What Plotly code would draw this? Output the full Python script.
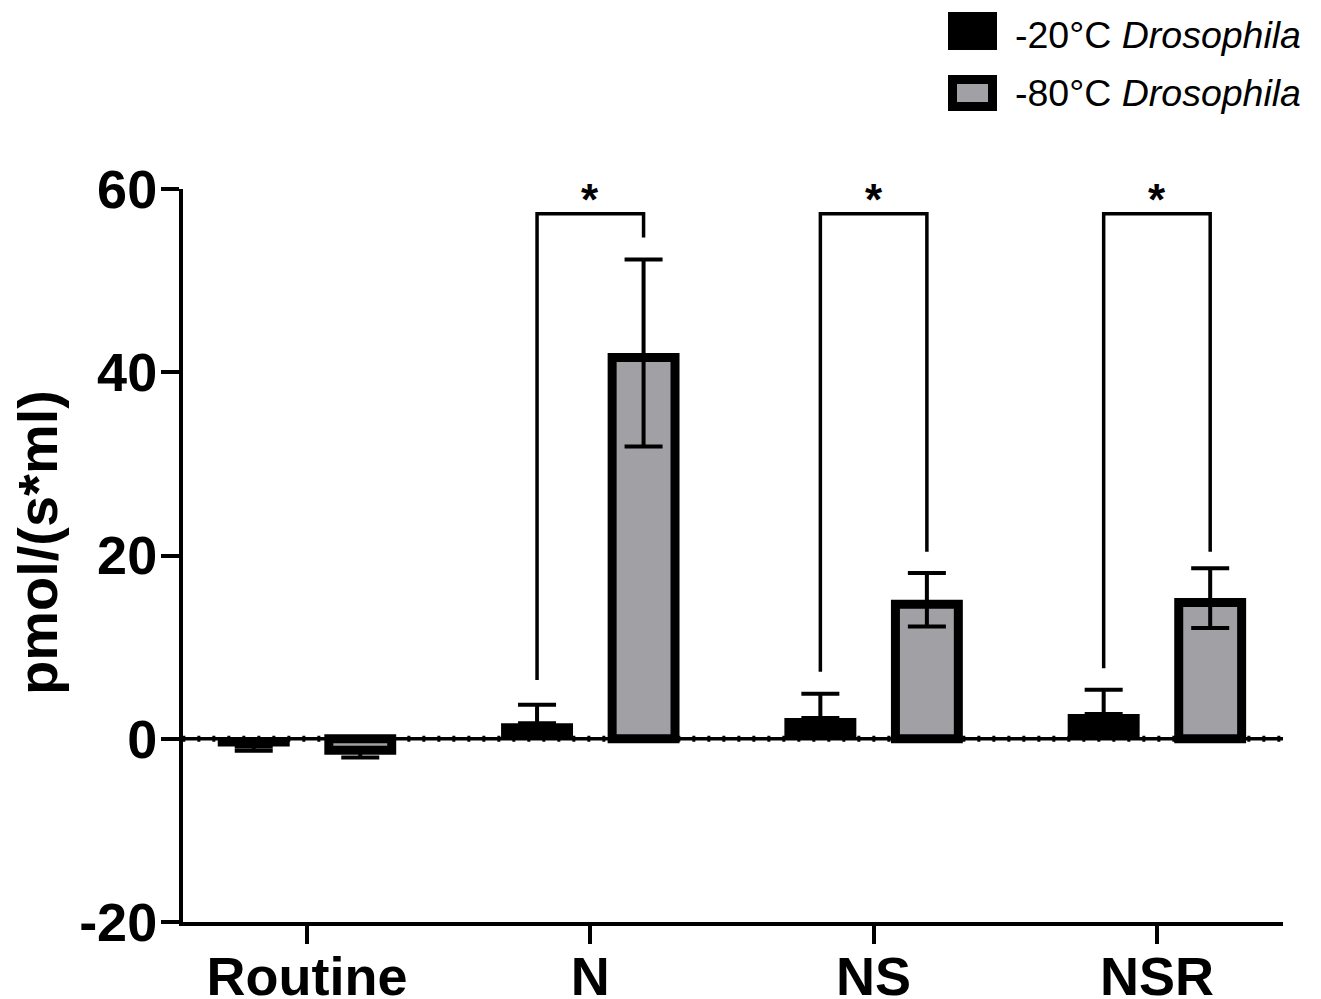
import plotly.graph_objects as go

# ---- data ----
categories = ["Routine", "N", "NS", "NSR"]
series_names = ["-20°C <i>Drosophila</i>", "-80°C <i>Drosophila</i>"]
minus20_values = [-0.84, 1.7, 2.26, 2.7]
minus20_err_plus = [0.0, 2.0, 2.65, 2.65]
minus20_err_minus = [0.47, 0.0, 0.0, 0.0]
minus80_values = [-1.25, 41.6, 14.67, 14.86]
minus80_err_plus = [0.0, 10.7, 3.43, 3.74]
minus80_err_minus = [0.79, 9.7, 2.42, 2.76]
y_ticks = [-20, 0, 20, 40, 60]
y_tick_labels = ["-20", "0", "20", "40", "60"]
y_title = "pmol/(s*ml)"

# significance brackets: (category index, left leg bottom, top, right leg bottom)
sig_cats = [1, 2, 3]
sig_left_bottom = [6.4, 7.3, 7.7]
sig_top = [57.3, 57.3, 57.3]
sig_right_bottom = [54.7, 20.4, 20.4]
sig_labels = ["*", "*", "*"]

FONT = "Liberation Sans, Arial, sans-serif"
W, H = 1321, 999
L, R, T, B = 183, 38, 189, 77
GRAY = "#a1a1a5"

x_idx = list(range(len(categories)))
off = 0.188
bw_black = 0.254
bw_gray = 0.222

fig = go.Figure()
fig.add_trace(go.Bar(
    x=x_idx, y=minus20_values, name=series_names[0],
    width=bw_black, offset=-off - bw_black / 2,
    marker=dict(color="black", line=dict(width=0)),
    error_y=dict(type="data", symmetric=False, array=minus20_err_plus,
                 arrayminus=minus20_err_minus, color="black", thickness=4, width=19),
    showlegend=False,
))
fig.add_trace(go.Bar(
    x=x_idx, y=minus80_values, name=series_names[1],
    width=bw_gray, offset=off - bw_gray / 2,
    marker=dict(color=GRAY, line=dict(width=9, color="black")),
    error_y=dict(type="data", symmetric=False, array=minus80_err_plus,
                 arrayminus=minus80_err_minus, color="black", thickness=4, width=19),
    showlegend=False,
))

shapes = []
# zero baseline
shapes.append(dict(type="line", xref="x", yref="y", x0=-0.44, x1=3.445, y0=0, y1=0,
                   line=dict(color="black", width=3.5)))
shapes.append(dict(type="line", xref="x", yref="y", x0=-0.44, x1=3.445, y0=0, y1=0,
                   line=dict(color="black", width=6, dash="3px,12px")))

annotations = []
for c, lb, tp, rb, lab in zip(sig_cats, sig_left_bottom, sig_top, sig_right_bottom, sig_labels):
    xl, xr = c - off, c + off
    shapes.append(dict(type="path", xref="x", yref="y",
                       path=f"M {xl},{lb} L {xl},{tp} L {xr},{tp} L {xr},{rb}",
                       line=dict(color="black", width=3.5)))
    annotations.append(dict(x=c, y=tp, xref="x", yref="y", text=lab, showarrow=False,
                            yanchor="bottom", yshift=-12,
                            font=dict(family=FONT, size=44, color="black", weight="bold")))

# legend drawn manually (pixel positions converted to paper coords)
pw, ph = W - L - R, H - T - B
def px(xp):
    return (xp - L) / pw
def py(yp):
    return (H - B - yp) / ph

shapes.append(dict(type="rect", xref="paper", yref="paper",
                   x0=px(948), x1=px(997), y0=py(50), y1=py(12),
                   fillcolor="black", line=dict(width=0)))
shapes.append(dict(type="rect", xref="paper", yref="paper",
                   x0=px(952.5), x1=px(992.5), y0=py(106.5), y1=py(79.5),
                   fillcolor=GRAY, line=dict(width=9, color="black")))
for name, yc in zip(series_names, [35, 93]):
    annotations.append(dict(x=px(1013), y=py(yc), xref="paper", yref="paper",
                            text=name, showarrow=False, xanchor="left", yanchor="middle",
                            font=dict(family=FONT, size=37.5, color="black")))

# y-axis title
annotations.append(dict(x=px(37), y=py(543), xref="paper", yref="paper", text=y_title,
                        showarrow=False, textangle=-90, xanchor="center", yanchor="middle",
                        font=dict(family=FONT, size=56, color="black", weight="bold")))

fig.update_layout(
    width=W, height=H,
    margin=dict(l=L, r=R, t=T, b=B, pad=0, autoexpand=False),
    paper_bgcolor="white", plot_bgcolor="white",
    barmode="overlay",
    font=dict(family=FONT, color="black"),
    shapes=shapes, annotations=annotations,
)
fig.update_xaxes(
    range=[-0.4377, 3.445], tickmode="array", tickvals=x_idx, ticktext=categories,
    showline=True, linewidth=4, linecolor="black", ticks="outside", ticklen=18,
    tickwidth=4, tickcolor="black", showgrid=False, zeroline=False, automargin=False,
    ticklabelstandoff=-14,
    tickfont=dict(family=FONT, size=54, color="black", weight="bold"),
)
fig.update_yaxes(
    range=[-20, 60], tickmode="array", tickvals=y_ticks, ticktext=y_tick_labels,
    showline=True, linewidth=4, linecolor="black", ticks="outside", ticklen=18,
    tickwidth=4, tickcolor="black", showgrid=False, zeroline=False, automargin=False,
    ticklabelstandoff=-7,
    tickfont=dict(family=FONT, size=54, color="black", weight="bold"),
)

fig.write_html("out.html", config={"displayModeBar": False},
               post_script="document.body.style.margin='0px';document.body.style.overflow='hidden';")
